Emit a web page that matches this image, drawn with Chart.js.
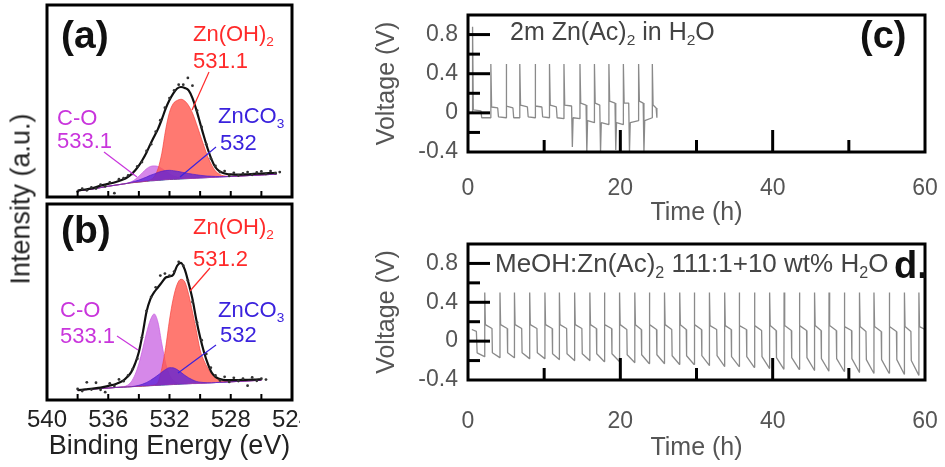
<!DOCTYPE html>
<html><head><meta charset="utf-8">
<script src="https://cdn.jsdelivr.net/npm/chart.js@4.4.1/dist/chart.umd.min.js"></script>
<style>
html,body{margin:0;padding:0;background:#fff;}
body{width:945px;height:467px;position:relative;overflow:hidden;font-family:"Liberation Sans",Arial,sans-serif;}
.box{position:absolute;}
#ytitle{position:absolute;left:21px;top:199px;transform:translate(-50%,-50%) rotate(-90deg);font-size:27px;color:#222;white-space:nowrap;}
</style></head><body>
<div class="box" style="left:0;top:0;width:300px;height:201px"><canvas id="cA"></canvas></div>
<div class="box" style="left:0;top:200px;width:300px;height:267px"><canvas id="cB"></canvas></div>
<div class="box" style="left:360px;top:0;width:585px;height:236px"><canvas id="cC"></canvas></div>
<div class="box" style="left:360px;top:236px;width:585px;height:231px"><canvas id="cD"></canvas></div>
<div id="ytitle">Intensity (a.u.)</div>
<script>
// ---------- XPS panel (a) ----------
const energyA = [538,537.5,537,536.5,536,535.5,535,534.75,534.5,534.25,534,533.75,533.5,533.25,533,532.75,532.5,532.25,532,531.75,531.5,531.25,531,530.75,530.5,530.25,530,529.75,529.5,529.25,529,528.75,528.5,528.25,528,527.5,527,526.5,526,525.5,525];
const baselineA = [3.2,3.6,4.2,4.9,5.6,6.2,6.8,7.1,7.4,7.6,7.8,8.0,8.2,8.4,8.5,8.7,8.8,9.0,9.1,9.2,9.3,9.4,9.5,9.6,9.7,9.8,9.9,10.0,10.1,10.2,10.3,10.4,10.5,10.6,10.7,10.9,11.1,11.3,11.5,11.7,11.9];
const znOHA = [3.2,3.6,4.2,4.9,5.6,6.2,6.8,7.1,7.4,7.6,7.8,8.0,8.3,8.9,10.5,14.7,22.8,35.0,44.1,48.7,50.3,50.9,50.0,47.6,43.7,38.3,32.4,26.5,20.9,16.7,13.5,11.9,11.1,10.8,10.7,10.9,11.1,11.3,11.5,11.7,11.9];
const cOA = [3.2,3.6,4.2,4.9,5.6,6.2,6.8,7.3,7.9,9.1,10.8,12.8,14.7,15.9,16.2,15.9,14.8,13.5,12.1,11.0,10.3,9.9,9.7,9.6,9.7,9.8,9.9,10.0,10.1,10.2,10.3,10.4,10.5,10.6,10.7,10.9,11.1,11.3,11.5,11.7,11.9];
const znCO3A = [3.2,3.6,4.2,4.9,5.6,6.2,6.8,7.1,7.7,8.2,8.8,9.6,10.4,11.3,12.0,12.8,13.4,13.8,13.9,13.7,13.4,13.0,12.6,12.2,11.9,11.6,11.3,11.1,10.9,10.8,10.7,10.65,10.65,10.7,10.7,10.9,11.1,11.3,11.5,11.7,11.9];
const envelopeA = [3.4,3.9,4.6,5.9,6.8,7.8,9.2,10.3,11.8,13.8,16.3,19.5,23.2,27.5,31.5,35.5,40.5,46,50.5,54,56.5,57.3,56.8,55.5,51.5,45.5,38.5,31.5,25,19.5,15.5,13.5,12.5,12,11.8,11.7,11.8,12,12.2,12.4,12.6];
const dotEnergyA = [538.0,537.7,537.4,537.1,536.8,536.5,536.2,535.9,535.6,535.3,535.0,534.7,534.4,534.1,533.8,533.5,533.2,532.9,532.6,532.3,532.0,531.7,531.4,531.1,530.8,530.5,530.2,529.9,529.6,529.3,529.0,528.7,528.4,528.1,527.8,527.5,527.2,526.9,526.6,526.3,526.0,525.7,525.4,525.1,524.8];
const dotIntensityA = [2.8,4.3,3.5,5.0,4.4,6.4,5.6,7.6,2.0,9.3,9.8,11.2,12.0,16.0,18.2,24.0,27.5,34.0,40.0,46.5,51.5,55.5,58.5,58.5,62.0,58.0,45.0,36.5,27.5,20.0,16.2,13.0,13.5,11.0,12.6,11.2,12.3,13.0,11.6,12.8,13.3,12.0,13.5,12.4,13.0];

// ---------- XPS panel (b) ----------
const energyB = [538,537.5,537,536.5,536,535.5,535,534.75,534.5,534.25,534,533.75,533.5,533.25,533,532.75,532.5,532.25,532,531.75,531.5,531.25,531,530.75,530.5,530.25,530,529.75,529.5,529.25,529,528.75,528.5,528.25,528,527.5,527,526.5,526];
const baselineB = [5.0,5.3,5.6,5.9,6.1,6.4,6.6,6.7,6.8,6.9,7.0,7.1,7.2,7.3,7.4,7.5,7.6,7.7,7.8,7.9,8.0,8.1,8.2,8.3,8.4,8.4,8.5,8.6,8.7,8.8,8.9,9.0,9.1,9.2,9.3,9.5,9.7,9.9,10.1];
const znOHB = [5.0,5.3,5.6,5.9,6.1,6.4,6.6,6.7,6.8,6.9,7.0,7.1,7.2,7.4,7.7,9.0,16.1,26.7,40.8,51.9,59.0,61.6,60.2,53.8,44.9,35.4,25.5,20.1,16.2,13.3,11.4,10.2,9.6,9.4,9.3,9.5,9.7,9.9,10.1];
const cOB = [5.0,5.3,5.6,5.9,6.1,6.4,6.8,7.5,9.3,12.9,18.5,26.1,34.2,40.8,43.9,39.5,28.6,18.7,12.8,9.9,8.8,8.4,8.2,8.3,8.4,8.4,8.5,8.6,8.7,8.8,8.9,9.0,9.1,9.2,9.3,9.5,9.7,9.9,10.1];
const znCO3B = [5.0,5.3,5.6,5.9,6.1,6.4,6.6,6.7,6.8,7.1,7.5,8.1,8.9,10.0,11.3,12.7,14.2,15.6,16.5,16.4,15.5,14.1,12.6,11.3,10.3,9.5,9.1,8.9,8.8,8.8,8.9,9.0,9.1,9.2,9.3,9.5,9.7,9.9,10.1];
const envelopeB = [5.0,5.4,5.8,6.3,7.2,8.2,10.0,11.8,14.2,18.5,24.5,34,45,51.5,55,57.5,60,62.5,63,64,68.5,70,66.5,59.5,51.5,41,32,24.5,18.5,14,11.8,10.8,10.3,10.1,10.1,10.2,10.3,10.4,10.6];
const dotEnergyB = [538.0,537.7,537.4,537.1,536.8,536.5,536.2,535.9,535.6,535.3,535.0,534.7,534.4,534.1,533.8,533.5,533.2,532.9,532.6,532.3,532.0,531.7,531.4,531.1,530.8,530.5,530.2,529.9,529.6,529.3,529.0,528.7,528.4,528.1,527.8,527.5,527.2,526.9,526.6,526.3,526.0,525.7];
const dotIntensityB = [5.6,4.6,9.0,5.3,8.8,5.2,4.0,8.5,7.2,10.5,9.6,12.6,15.8,21.0,32.0,45.5,52.5,57.5,63.5,64.5,63.5,65.5,70.5,68.5,61.0,50.0,39.5,30.5,23.5,16.5,12.5,10.0,11.8,9.2,11.3,9.7,10.9,7.3,11.5,9.8,10.9,10.4];

const energyTickLabels = [540,536,532,528,524];
const energyMinorTicks = [538,536,534,532,530,528,526];

// ---------- Voltage panel (c) ----------
const timeC = [0.6,0.6,0.7,1.7,1.8,3.0,
 3.0,3.1,3.9,4.0,5.0,
 5.0,5.1,5.9,6.0,6.8,
 6.8,6.9,7.8,7.9,8.8,
 8.8,8.9,9.7,9.8,10.7,
 10.7,10.8,11.6,11.7,12.6,
 12.6,12.7,13.6,13.7,13.8,14.7,
 14.7,14.8,15.5,15.6,15.7,16.6,
 16.6,16.7,17.3,17.4,17.5,18.5,
 18.5,18.6,19.3,19.4,19.5,20.4,
 20.4,20.5,21.1,21.2,21.3,22.4,
 22.4,22.5,23.0,23.1,23.2,24.2,
 24.2,24.3,24.7,24.8];
const voltC = [0.0,0.88,0.03,0.02,-0.05,-0.05,
 0.5,0.06,0.05,-0.04,-0.05,
 0.5,0.07,0.05,-0.05,-0.05,
 0.5,0.08,0.06,-0.04,-0.05,
 0.5,0.07,0.06,-0.04,-0.05,
 0.5,0.08,0.06,-0.05,-0.06,
 0.5,0.08,0.07,-0.35,-0.05,-0.06,
 0.5,0.1,0.08,-0.4,-0.08,-0.1,
 0.5,0.1,0.08,-0.4,-0.1,-0.12,
 0.5,0.12,0.1,-0.38,-0.1,-0.12,
 0.5,0.1,0.1,-0.4,-0.1,-0.08,
 0.5,0.12,0.1,-0.4,-0.08,-0.05,
 0.5,0.08,0.05,-0.05];

// ---------- Voltage panel (d) ----------
const timeD = [0.5,1.1,1.2,2.18,
 2.2,2.28,3.15,3.2,4.18,
 4.2,4.28,5.15,5.2,6.08,
 6.1,6.18,7.05,7.1,8.08,
 8.1,8.18,9.05,9.1,10.08,
 10.1,10.18,11.05,11.1,11.98,
 12.0,12.08,12.95,13.0,13.98,
 14.0,14.08,14.95,15.0,15.98,
 16.0,16.08,16.85,16.9,17.88,
 17.9,17.98,18.85,18.9,19.88,
 19.9,19.98,20.85,20.9,21.88,
 21.9,21.98,22.75,22.8,23.78,
 23.8,23.88,24.75,24.8,25.78,
 25.8,25.88,26.75,26.8,27.78,
 27.8,27.88,28.65,28.7,29.68,
 29.7,29.78,30.65,30.7,31.68,
 31.7,31.78,32.65,32.7,33.68,
 33.7,33.78,34.55,34.6,35.58,
 35.6,35.68,36.55,36.6,37.58,
 37.6,37.68,38.55,38.6,39.58,
 39.6,39.68,40.45,40.5,41.48,
 41.5,41.58,42.45,42.5,43.48,
 43.5,43.58,44.45,44.5,45.48,
 45.5,45.58,46.35,46.4,47.38,
 47.4,47.48,48.35,48.4,49.38,
 49.4,49.48,50.35,50.4,51.38,
 51.4,51.48,52.25,52.3,53.28,
 53.3,53.38,54.25,54.3,55.28,
 55.3,55.38,56.25,56.3,57.28,
 57.3,57.38,58.15,58.2,59.18,
 59.2,59.28,60.0];
const voltD = [0.12,0.1,-0.12,-0.16,
 0.5,0.17,0.13,-0.12,-0.17,
 0.5,0.17,0.13,-0.12,-0.17,
 0.5,0.17,0.13,-0.12,-0.18,
 0.5,0.17,0.13,-0.12,-0.18,
 0.5,0.17,0.13,-0.13,-0.19,
 0.5,0.17,0.13,-0.13,-0.2,
 0.5,0.17,0.13,-0.13,-0.2,
 0.5,0.17,0.13,-0.13,-0.21,
 0.5,0.17,0.13,-0.13,-0.21,
 0.5,0.17,0.12,-0.14,-0.22,
 0.5,0.17,0.12,-0.14,-0.23,
 0.5,0.17,0.12,-0.14,-0.23,
 0.5,0.17,0.12,-0.15,-0.24,
 0.5,0.17,0.12,-0.15,-0.24,
 0.5,0.17,0.12,-0.15,-0.25,
 0.5,0.16,0.12,-0.15,-0.26,
 0.5,0.16,0.12,-0.16,-0.26,
 0.5,0.16,0.12,-0.16,-0.27,
 0.5,0.16,0.11,-0.16,-0.28,
 0.5,0.16,0.11,-0.17,-0.29,
 0.5,0.16,0.11,-0.17,-0.29,
 0.5,0.16,0.11,-0.17,-0.3,
 0.5,0.16,0.11,-0.18,-0.31,
 0.5,0.16,0.11,-0.18,-0.31,
 0.5,0.15,0.11,-0.18,-0.32,
 0.5,0.15,0.1,-0.19,-0.33,
 0.5,0.15,0.1,-0.19,-0.33,
 0.5,0.15,0.1,-0.19,-0.34,
 0.5,0.15,0.1,-0.2,-0.35,
 0.5,0.15,0.12];

const timeTickLabels = [0,20,40,60];
const timeMajorTicks = [20,40];
const timeMinorTicks = [10,30,50];
const voltTickLabels = [-0.4,0,0.4,0.8];
const voltMajorTicks = [0,0.4,0.8];
const voltMinorTicks = [-0.2,0.2,0.6];

// ---------- helpers ----------
const FAM = '"Liberation Sans", Arial, sans-serif';
Chart.defaults.font.family = FAM;
const xy = (xs, ys) => xs.map((x, i) => ({x: x, y: ys[i]}));

function drawRich(ctx, str, x, y, size, weight, color) {
  const segs = [];
  for (let i = 0; i < str.length; i++) {
    if (str[i] === '_') { segs.push({t: str[i + 1], sub: true}); i++; }
    else if (segs.length && !segs[segs.length - 1].sub) segs[segs.length - 1].t += str[i];
    else segs.push({t: str[i], sub: false});
  }
  let cx = x;
  ctx.fillStyle = color; ctx.textBaseline = 'middle'; ctx.textAlign = 'left';
  segs.forEach(s => {
    const sz = s.sub ? size * 0.62 : size;
    ctx.font = `${weight} ${sz}px ${FAM}`;
    ctx.fillText(s.t, cx, s.sub ? y + size * 0.32 : y);
    cx += ctx.measureText(s.t).width;
  });
}

const framePlugin = {
  id: 'frame',
  afterDraw(chart, args, o) {
    const {ctx, chartArea: a, scales} = chart;
    const ox = o.ox || 0, oy = o.oy || 0;
    ctx.save();
    ctx.strokeStyle = '#000';
    ctx.lineCap = 'butt';
    ctx.lineWidth = o.tickWidth || 3;
    (o.xTicks || []).forEach(([v, len]) => {
      const x = scales.x.getPixelForValue(v);
      ctx.beginPath(); ctx.moveTo(x, a.bottom); ctx.lineTo(x, a.bottom - len); ctx.stroke();
    });
    (o.yTicks || []).forEach(([v, len]) => {
      const y = scales.y.getPixelForValue(v);
      ctx.beginPath(); ctx.moveTo(a.left, y); ctx.lineTo(a.left + len, y); ctx.stroke();
    });
    ctx.lineWidth = 3;
    ctx.strokeRect(a.left, a.top, a.right - a.left, a.bottom - a.top);
    (o.leaders || []).forEach(l => {
      ctx.strokeStyle = l.color; ctx.lineWidth = 1.2;
      ctx.beginPath(); ctx.moveTo(l.x1 - ox, l.y1 - oy); ctx.lineTo(l.x2 - ox, l.y2 - oy); ctx.stroke();
    });
    (o.texts || []).forEach(t => drawRich(ctx, t.s, t.x - ox, t.y - oy, t.size, t.weight || 'normal', t.color));
    ctx.restore();
  }
};

function fixAxis(w, h) {
  return function (s) {
    if (!s.options.display) return;
    if (w !== undefined) s.width = w;
    if (h !== undefined) s.height = h;
    s.paddingLeft = 0; s.paddingRight = 0; s.paddingTop = 0; s.paddingBottom = 0;
  };
}

const RED_T = '#ff2a2a', PUR_T = '#c935dc', BLU_T = '#3a22dd';

function xpsChart(id, E, base, red, pur, blu, env, dE, dI, showAxis, pad, frame) {
  const datasets = [
    {data: xy(dE, dI), showLine: false, pointRadius: 1.4, pointBackgroundColor: '#333', pointBorderWidth: 0},
    {data: xy(E, env), borderColor: '#111', borderWidth: 2.2, pointRadius: 0, cubicInterpolationMode: 'monotone', fill: false},
    {data: xy(E, blu), borderColor: 'rgba(85,30,205,0.9)', borderWidth: 0.8, backgroundColor: 'rgba(95,35,215,0.78)', pointRadius: 0, cubicInterpolationMode: 'monotone', fill: 5},
    {data: xy(E, red), borderColor: 'rgba(245,70,65,0.9)', borderWidth: 0.8, backgroundColor: 'rgba(255,88,78,0.8)', pointRadius: 0, cubicInterpolationMode: 'monotone', fill: 5},
    {data: xy(E, pur), borderColor: 'rgba(200,90,225,0.9)', borderWidth: 0.8, backgroundColor: 'rgba(205,110,228,0.82)', pointRadius: 0, cubicInterpolationMode: 'monotone', fill: 5},
    {data: xy(E, base), borderColor: '#2a2a90', borderWidth: 1, pointRadius: 0, fill: false}
  ];
  return new Chart(document.getElementById(id), {
    type: 'line',
    data: {datasets},
    options: {
      responsive: true, maintainAspectRatio: false, animation: false, events: [],
      layout: {padding: pad},
      plugins: {legend: {display: false}, tooltip: {enabled: false}, frame},
      scales: {
        x: {
          type: 'linear', min: 524, max: 540, reverse: true, display: showAxis,
          afterFit: fixAxis(undefined, 67),
          afterBuildTicks: s => { s.ticks = energyTickLabels.map(v => ({value: v})); },
          grid: {display: false, drawTicks: false}, border: {display: false},
          ticks: {autoSkip: false, maxRotation: 0, padding: 5.6, color: '#222', font: {size: 24}},
          title: {display: true, text: 'Binding Energy (eV)', color: '#222', font: {size: 27}, padding: {top: 0, bottom: 3.8}}
        },
        y: {type: 'linear', min: 0, max: 100, display: false}
      }
    },
    plugins: [framePlugin]
  });
}

xpsChart('cA', energyA, baselineA, znOHA, cOA, znCO3A, envelopeA, dotEnergyA, dotIntensityA, false,
  {left: 47, right: 8, top: 5, bottom: 1},
  {ox: 0, oy: 0, tickWidth: 2, xTicks: energyMinorTicks.map(v => [v, 6]),
   leaders: [
     {x1: 209, y1: 72, x2: 192, y2: 110, color: RED_T},
     {x1: 104, y1: 152, x2: 137, y2: 177, color: PUR_T},
     {x1: 216, y1: 147, x2: 180, y2: 177, color: BLU_T}],
   texts: [
     {s: '(a)', x: 61, y: 37, size: 39, weight: 'bold', color: '#111'},
     {s: 'Zn(OH)_2', x: 193, y: 35, size: 22, color: RED_T},
     {s: '531.1', x: 193, y: 62, size: 22, color: RED_T},
     {s: 'C-O', x: 57, y: 119, size: 22, color: PUR_T},
     {s: '533.1', x: 57, y: 142, size: 22, color: PUR_T},
     {s: 'ZnCO_3', x: 218, y: 117, size: 22, color: BLU_T},
     {s: '532', x: 220, y: 144, size: 22, color: BLU_T}]});

xpsChart('cB', energyB, baselineB, znOHB, cOB, znCO3B, envelopeB, dotEnergyB, dotIntensityB, true,
  {left: 47, right: 8, top: 1, bottom: 0},
  {ox: 0, oy: 200, tickWidth: 2, xTicks: energyMinorTicks.map(v => [v, 6]),
   leaders: [
     {x1: 210, y1: 268, x2: 190, y2: 291, color: RED_T},
     {x1: 117, y1: 336, x2: 138, y2: 350, color: PUR_T},
     {x1: 216, y1: 345, x2: 178, y2: 373, color: BLU_T}],
   texts: [
     {s: '(b)', x: 61, y: 232, size: 39, weight: 'bold', color: '#111'},
     {s: 'Zn(OH)_2', x: 193, y: 228, size: 22, color: RED_T},
     {s: '531.2', x: 193, y: 260, size: 22, color: RED_T},
     {s: 'C-O', x: 60, y: 311, size: 22, color: PUR_T},
     {s: '533.1', x: 60, y: 337, size: 22, color: PUR_T},
     {s: 'ZnCO_3', x: 218, y: 311, size: 22, color: BLU_T},
     {s: '532', x: 220, y: 336, size: 22, color: BLU_T}]});

function voltChart(id, T, V, pad, xh, lblPad, titlePad, frame) {
  return new Chart(document.getElementById(id), {
    type: 'line',
    data: {datasets: [{data: xy(T, V), borderColor: '#8a8a8a', borderWidth: 1.3, pointRadius: 0, tension: 0, fill: false, borderJoinStyle: 'bevel'}]},
    options: {
      responsive: true, maintainAspectRatio: false, animation: false, events: [],
      layout: {padding: pad},
      plugins: {legend: {display: false}, tooltip: {enabled: false}, frame},
      scales: {
        x: {
          type: 'linear', min: 0, max: 60,
          afterFit: fixAxis(undefined, xh),
          afterBuildTicks: s => { s.ticks = timeTickLabels.map(v => ({value: v})); },
          grid: {display: false, drawTicks: false}, border: {display: false},
          ticks: {autoSkip: false, maxRotation: 0, padding: lblPad, color: '#555', font: {size: 23}},
          title: {display: true, text: 'Time (h)', color: '#555', font: {size: 25}, padding: {top: 0, bottom: titlePad}}
        },
        y: {
          type: 'linear', min: -0.4, max: 1.0,
          afterFit: fixAxis(108, undefined),
          afterBuildTicks: s => { s.ticks = voltTickLabels.map(v => ({value: v})); },
          grid: {display: false, drawTicks: false}, border: {display: false},
          ticks: {autoSkip: false, padding: 10, color: '#555', font: {size: 23},
                  callback: v => (Math.abs(v) < 1e-9 ? '0' : String(+v.toFixed(1)))},
          title: {display: true, text: 'Voltage (V)', color: '#555', font: {size: 25}, padding: {top: 12, bottom: 0}}
        }
      }
    },
    plugins: [framePlugin]
  });
}

const voltTickSpec = voltMajorTicks.map(v => [v, 22]).concat(voltMinorTicks.map(v => [v, 12]));
const timeTickSpec = timeMajorTicks.map(v => [v, 22]).concat(timeMinorTicks.map(v => [v, 12]));

voltChart('cC', timeC, voltC, {left: 0, right: 20, top: 15, bottom: 0}, 84, 23.2, 8,
  {ox: 360, oy: 0, tickWidth: 3, xTicks: timeTickSpec, yTicks: voltTickSpec,
   texts: [
     {s: '2m Zn(Ac)_2 in H_2O', x: 510, y: 33, size: 25, color: '#444'},
     {s: '(c)', x: 860, y: 38, size: 38, weight: 'bold', color: '#111'}]});

voltChart('cD', timeD, voltD, {left: 0, right: 20, top: 8, bottom: 0}, 87, 28.2, 4,
  {ox: 360, oy: 236, tickWidth: 3, xTicks: timeTickSpec, yTicks: voltTickSpec,
   texts: [
     {s: 'MeOH:Zn(Ac)_2 111:1+10 wt% H_2O', x: 495, y: 265, size: 26, color: '#444'},
     {s: 'd.', x: 894, y: 268, size: 38, weight: 'bold', color: '#111'}]});
</script></body></html>
